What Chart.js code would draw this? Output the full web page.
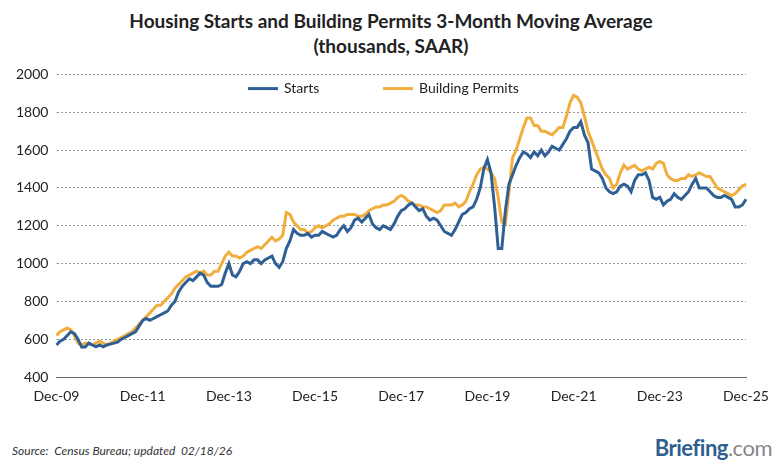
<!DOCTYPE html>
<html><head><meta charset="utf-8">
<script src="https://cdn.jsdelivr.net/npm/chart.js@4"></script>
<style>
body{margin:0;background:#fff;font-family:Lato,"Open Sans",sans-serif;}
#wrap{position:relative;width:782px;height:474px;}
#title{position:absolute;top:8px;left:0;width:782px;text-align:center;font-weight:bold;font-size:19px;line-height:25px;color:#222;}
#c{position:absolute;left:0;top:58px;}
#src{position:absolute;left:12px;top:443px;font-style:italic;font-size:12px;color:#333;}
#logo{position:absolute;right:10px;top:434px;font-size:22px;font-weight:bold;color:#2f5f8f;letter-spacing:-0.5px;}
#logo span{color:#888;font-weight:normal;}
</style></head><body>
<div id="wrap">
<div id="title">Housing Starts and Building Permits 3-Month Moving Average<br>(thousands, SAAR)</div>
<canvas id="c" width="782" height="350"></canvas>
<div id="src">Source:&nbsp; Census Bureau; updated&nbsp; 02/18/26</div>
<div id="logo">Briefing<span>.com</span></div>
</div>
<script>
const years=[2010,2011,2012,2013,2014,2015,2016,2017,2018,2019,2020,2021,2022,2023,2024,2025];
const starts=[570,
590,600,620,640,630,600,560,560,580,570,560,570,
560,570,575,580,585,600,610,620,630,640,670,700,
710,700,710,720,730,740,750,780,800,850,880,900,
920,910,930,950,940,900,880,880,880,890,950,1000,
940,930,960,1000,1010,1000,1020,1020,1000,1020,1030,1040,
1000,980,1010,1080,1120,1180,1160,1150,1150,1160,1140,1150,
1150,1170,1160,1150,1140,1150,1180,1200,1170,1190,1230,1240,
1220,1240,1260,1210,1190,1180,1200,1190,1180,1210,1250,1280,
1290,1310,1320,1300,1280,1290,1250,1230,1240,1230,1200,1170,
1160,1150,1180,1220,1260,1270,1290,1300,1340,1400,1500,1550,
1480,1300,1080,1080,1280,1420,1470,1520,1560,1590,1580,1560,
1590,1570,1600,1570,1590,1620,1610,1600,1630,1660,1700,1720,
1720,1750,1680,1640,1500,1490,1480,1450,1400,1380,1370,1380,
1410,1420,1410,1380,1440,1470,1470,1480,1440,1350,1340,1350,
1310,1330,1340,1370,1350,1340,1360,1380,1420,1450,1400,1400,
1400,1380,1360,1350,1350,1360,1350,1340,1300,1300,1310,1340];
const permits=[620,
640,650,660,650,620,580,570,580,580,570,580,590,
580,570,580,590,600,610,620,630,640,660,680,700,
720,740,760,780,780,800,820,840,870,890,910,930,
940,950,960,950,960,940,940,960,960,1000,1040,1060,
1040,1040,1030,1040,1060,1070,1080,1090,1080,1100,1120,1140,
1120,1130,1150,1270,1260,1220,1200,1180,1180,1160,1170,1190,
1200,1190,1200,1210,1230,1240,1250,1250,1260,1260,1260,1250,
1250,1260,1280,1290,1300,1300,1310,1310,1320,1330,1350,1360,
1350,1330,1320,1310,1310,1300,1300,1290,1280,1270,1280,1310,
1310,1310,1320,1300,1310,1330,1380,1420,1470,1500,1510,1500,
1480,1450,1350,1220,1210,1380,1560,1600,1660,1720,1770,1770,
1730,1730,1700,1700,1690,1680,1700,1720,1720,1780,1850,1890,
1880,1850,1780,1700,1650,1600,1550,1500,1470,1450,1400,1420,
1480,1520,1500,1510,1520,1500,1490,1500,1510,1500,1530,1540,
1530,1470,1450,1440,1440,1450,1450,1470,1460,1470,1480,1470,
1460,1460,1430,1400,1390,1380,1370,1360,1370,1390,1410,1420];
const mon=['Jan','Feb','Mar','Apr','May','Jun','Jul','Aug','Sep','Oct','Nov','Dec'];
const labels=['Dec-09'];
years.forEach(y=>mon.forEach(m=>labels.push(m+'-'+String(y%100).padStart(2,'0'))));
const legendPlugin={id:'inlegend',afterDraw(ch){
 const c=ch.ctx;c.save();c.font='14px Lato, sans-serif';c.fillStyle='#222';c.textBaseline='middle';
 const y=ch.scales.y.getPixelForValue(1925);
 const items=[[248,'#2e6096','Starts'],[383,'#f2ae3d','Building Permits']];
 items.forEach(([x,col,t])=>{c.strokeStyle=col;c.lineWidth=3;c.beginPath();c.moveTo(x,y);c.lineTo(x+30,y);c.stroke();c.fillText(t,x+36,y);});
 c.restore();}};
new Chart(document.getElementById('c'),{type:'line',
data:{labels,datasets:[
{label:'Starts',data:starts,borderColor:'#2e6096',borderWidth:3,pointRadius:0,tension:0},
{label:'Building Permits',data:permits,borderColor:'#f2ae3d',borderWidth:3,pointRadius:0,tension:0}]},
options:{responsive:false,animation:false,
layout:{padding:{left:8,right:36,top:10,bottom:0}},
plugins:{legend:{display:false},tooltip:{enabled:false}},
scales:{
x:{grid:{display:false,drawTicks:true},border:{color:'#666'},
 ticks:{autoSkip:false,maxRotation:0,color:'#222',font:{size:14,family:'Lato'},
 callback:(v,i)=>i%24===0?labels[i]:''}},
y:{min:400,max:2000,grid:{color:'#999',tickLength:0},border:{display:true,color:'rgba(0,0,0,0)',dash:[2,2]},
 ticks:{stepSize:200,color:'#222',font:{size:14,family:'Lato'},padding:8,callback:v=>String(v)}}}},
plugins:[legendPlugin]});
</script>
</body></html>
